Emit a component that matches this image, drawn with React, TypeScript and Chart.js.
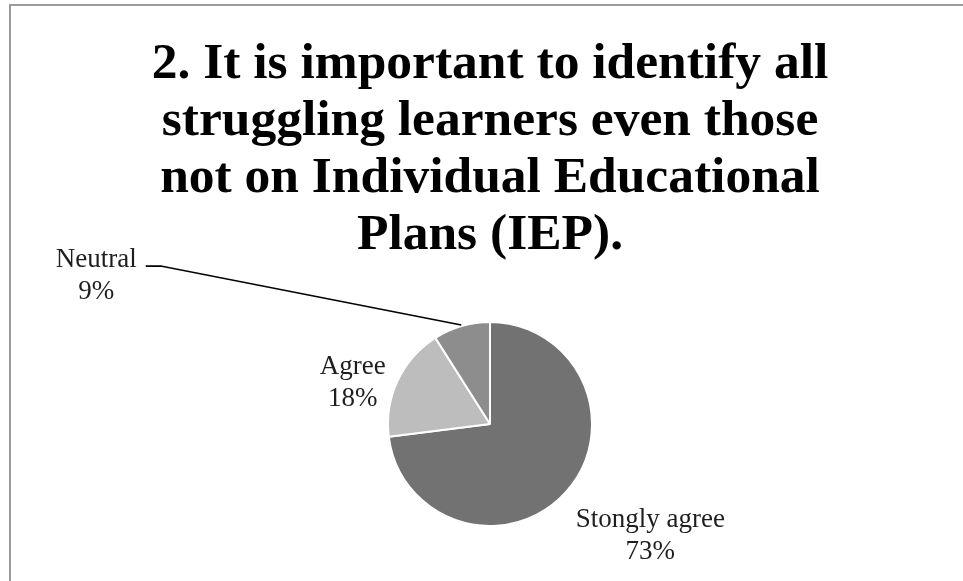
import React, { useEffect, useRef } from "react";
import { Chart, registerables } from "chart.js";

Chart.register(...registerables);

const titleLines = [
  "2. It is important to identify all",
  "struggling learners even those",
  "not on Individual Educational",
  "Plans (IEP).",
];
const categories = ["Stongly agree", "Agree", "Neutral"];
const values = [73, 18, 9];
const percentLabels = ["73%", "18%", "9%"];
const sliceColors = ["#727272", "#bdbdbd", "#8d8d8d"];

const labelFont = "27px 'Liberation Serif', serif";

const labelPlugin = {
  id: "outerLabels",
  afterDatasetsDraw(chart: any) {
    const ctx = chart.ctx;
    const meta = chart.getDatasetMeta(0);
    // label placement relative to each arc's outer point at mid-angle
    const place = [
      { dx: 83, dy: 35, leader: false },
      { dx: -44, dy: -6, leader: false },
      { dx: -365, dy: -58, leader: true },
    ];
    ctx.save();
    meta.data.forEach((arc: any, i: number) => {
      const { x, y, startAngle, endAngle, outerRadius } = arc.getProps(
        ["x", "y", "startAngle", "endAngle", "outerRadius"],
        true
      );
      const mid = (startAngle + endAngle) / 2;
      const px = x + Math.cos(mid) * (outerRadius + 1);
      const py = y + Math.sin(mid) * (outerRadius + 1);
      const p = place[i];
      const lx = px + p.dx;
      const ly = py + p.dy;
      ctx.font = labelFont;
      ctx.fillStyle = "#1e1e1e";
      ctx.textAlign = "center";
      ctx.textBaseline = "alphabetic";
      ctx.fillText(categories[i], lx, ly);
      ctx.fillText(percentLabels[i], lx, ly + 32);
      if (p.leader) {
        const w = ctx.measureText(categories[i]).width;
        const sx = lx + w / 2 + 9;
        const sy = ly - 1;
        ctx.beginPath();
        ctx.strokeStyle = "#000";
        ctx.lineWidth = 1.6;
        ctx.moveTo(sx, sy);
        ctx.lineTo(sx + 15, sy);
        ctx.lineTo(px, py);
        ctx.stroke();
      }
    });
    ctx.restore();
  },
};

export default function App() {
  const ref = useRef<HTMLCanvasElement>(null);
  useEffect(() => {
    document.body.style.margin = "0";
    const chart = new Chart(ref.current as HTMLCanvasElement, {
      type: "pie",
      data: {
        labels: categories,
        datasets: [
          {
            data: values,
            backgroundColor: sliceColors,
            borderColor: "#ffffff",
            borderWidth: 2,
          },
        ],
      },
      options: {
        responsive: false,
        animation: false,
        layout: { padding: { left: 17, right: 0, top: 0, bottom: 54 } },
        plugins: {
          legend: { display: false },
          tooltip: { enabled: false },
          title: {
            display: true,
            text: titleLines,
            color: "#000",
            font: { family: "'Liberation Serif', serif", size: 51.5, weight: "bold", lineHeight: 57 / 51.5 },
            padding: { top: 36, bottom: 57 },
          },
        },
      },
      plugins: [labelPlugin],
    });
    return () => chart.destroy();
  }, []);
  return (
    <div style={{ position: "relative", width: 963, height: 581, overflow: "hidden", background: "#fff" }}>
      <div
        style={{
          position: "absolute",
          left: 9,
          top: 4,
          width: 1200,
          height: 1200,
          border: "2px solid #9a9a9a",
          boxSizing: "border-box",
        }}
      />
      <canvas ref={ref} width={963} height={581} style={{ position: "absolute", left: 0, top: 0 }} />
    </div>
  );
}
